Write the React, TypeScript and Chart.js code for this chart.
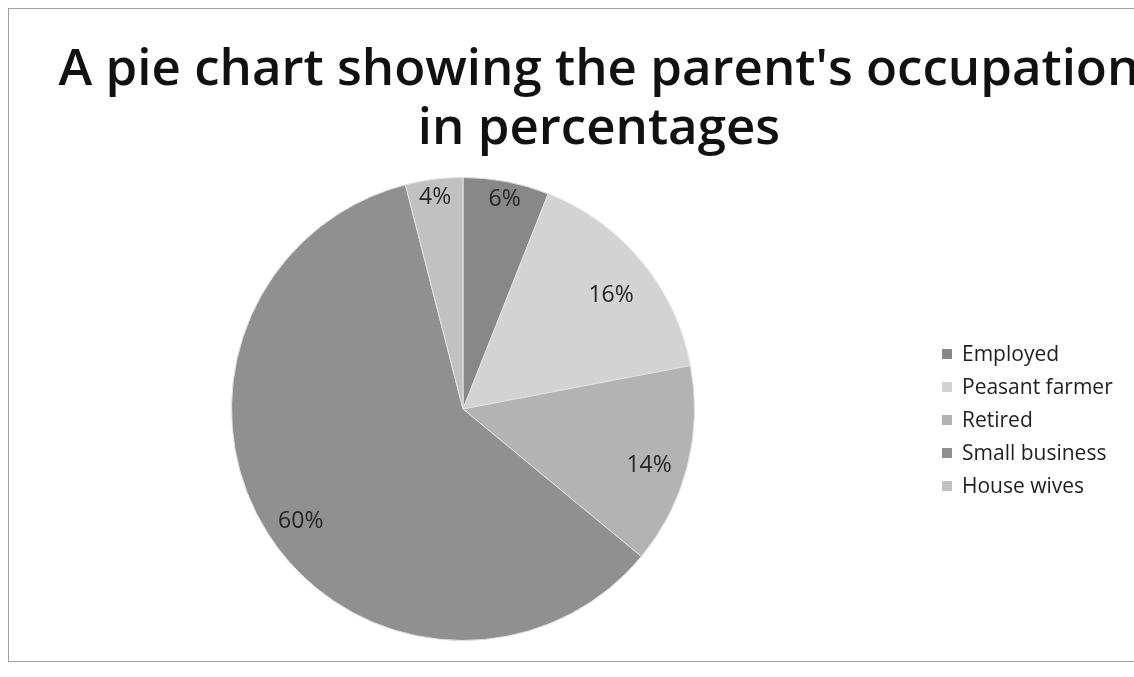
import React, { useEffect, useRef } from "react";
import { Chart, registerables } from "chart.js";

Chart.register(...registerables);

const categories = ["Employed", "Peasant farmer", "Retired", "Small business", "House wives"];
const percentages = [6, 16, 14, 60, 4];
const sliceColors = ["#888888", "#d3d3d3", "#b3b3b3", "#909090", "#c1c1c1"];
const titleLines = ["A pie chart showing the parent's occupation", "in percentages"];

const W = 1134;
const H = 677;

const decorPlugin = {
  id: "decor",
  beforeDraw(chart: any) {
    const ctx = chart.ctx;
    ctx.save();
    ctx.fillStyle = "#ffffff";
    ctx.fillRect(0, 0, chart.width, chart.height);
    ctx.strokeStyle = "#a0a0a0";
    ctx.lineWidth = 1;
    ctx.strokeRect(8.5, 8.5, 1140, 653);
    ctx.restore();
  },
  afterDraw(chart: any) {
    const ctx = chart.ctx;
    ctx.save();
    // title
    ctx.fillStyle = "#111111";
    ctx.font = "600 51px 'Open Sans'";
    ctx.textAlign = "center";
    ctx.textBaseline = "alphabetic";
    ctx.fillText(titleLines[0], 599, 85);
    ctx.fillText(titleLines[1], 599, 144);

    // data labels
    const meta = chart.getDatasetMeta(0);
    ctx.font = "23px 'Open Sans'";
    ctx.fillStyle = "#262626";
    ctx.textBaseline = "middle";
    meta.data.forEach((arc: any, i: number) => {
      const p = arc.getProps(["x", "y", "startAngle", "endAngle", "outerRadius"], true);
      const mid = (p.startAngle + p.endAngle) / 2;
      const sweep = p.endAngle - p.startAngle;
      const f = sweep < 0.5 ? 0.96 : 0.83;
      const r = p.outerRadius * f;
      ctx.fillText(percentages[i] + "%", p.x + Math.cos(mid) * r, p.y + 9 + Math.sin(mid) * r);
    });

    // legend
    ctx.font = "21px 'Open Sans'";
    ctx.textAlign = "left";
    const startY = 354;
    const step = 33;
    categories.forEach((c, i) => {
      const y = startY + i * step;
      ctx.fillStyle = sliceColors[i];
      ctx.fillRect(942, y - 5, 10, 10);
      ctx.fillStyle = "#1f1f1f";
      ctx.fillText(c, 962, y + 1);
    });
    ctx.restore();
  },
};

export default function App() {
  const ref = useRef<HTMLCanvasElement | null>(null);
  useEffect(() => {
    document.body.style.margin = "0";
    const canvas = ref.current!;
    const chart = new Chart(canvas, {
      type: "pie",
      data: {
        labels: categories,
        datasets: [
          {
            data: percentages,
            backgroundColor: sliceColors,
            borderColor: "#e2e2e2",
            borderWidth: 1,
            hoverOffset: 0,
          },
        ],
      },
      options: {
        responsive: false,
        animation: false,
        devicePixelRatio: 1,
        layout: { padding: { left: 231, right: W - 695, top: 177, bottom: H - 641 } },
        plugins: {
          legend: { display: false },
          title: { display: false },
          tooltip: { enabled: false },
        },
      },
      plugins: [decorPlugin],
    });
    return () => chart.destroy();
  }, []);
  return (
    <div style={{ width: W, height: H }}>
      <canvas ref={ref} width={W} height={H} style={{ display: "block" }} />
    </div>
  );
}
